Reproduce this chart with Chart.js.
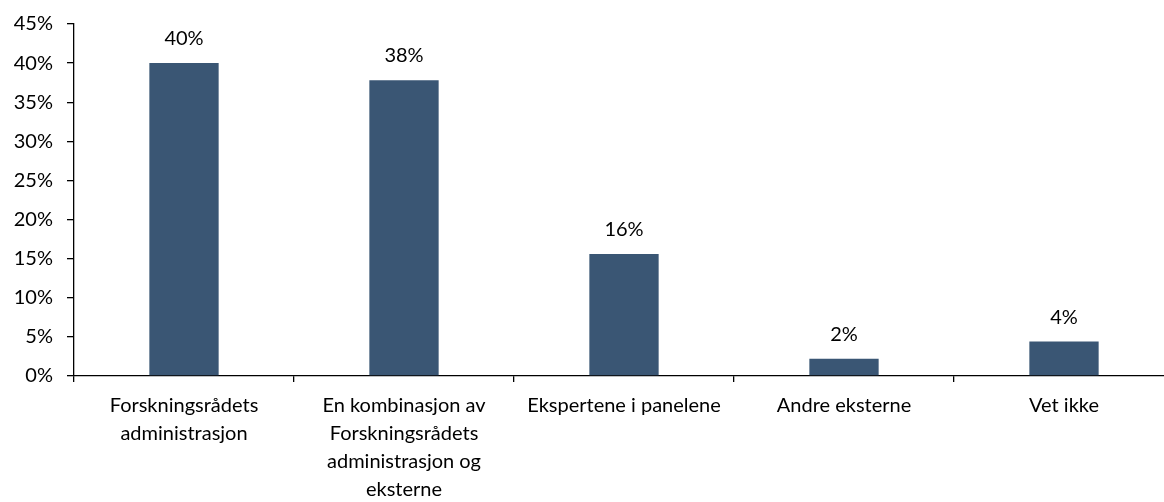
<!DOCTYPE html>
<html>
<head>
<meta charset="utf-8">
<script src="https://cdn.jsdelivr.net/npm/chart.js@4"></script>
<style>
  html, body { margin: 0; padding: 0; background: #fff; overflow: hidden; }
  #wrap { width: 1176px; height: 502px; }
</style>
</head>
<body>
<div id="wrap"><canvas id="chart" width="1176" height="502"></canvas></div>
<script>
// DATA
const categories = [
    ["Forskningsrådets", "administrasjon"],
    ["En kombinasjon av", "Forskningsrådets", "administrasjon og", "eksterne"],
    "Ekspertene i panelene",
    "Andre eksterne",
    "Vet ikke"
];
const shares = [40.0, 37.8, 15.6, 2.2, 4.4];
const shareLabels = ["40%", "38%", "16%", "2%", "4%"];
const yTicks = [0, 5, 10, 15, 20, 25, 30, 35, 40, 45];

const FONT = "Lato, 'Open Sans', sans-serif";

// value labels above the bars
const barLabels = {
    id: "barLabels",
    afterDatasetsDraw(chart) {
        const ctx = chart.ctx;
        const meta = chart.getDatasetMeta(0);
        ctx.save();
        ctx.font = "20px " + FONT;
        ctx.fillStyle = "#000";
        ctx.textAlign = "center";
        ctx.textBaseline = "alphabetic";
        meta.data.forEach((bar, i) => {
            ctx.fillText(shareLabels[i], bar.x, bar.y - 18);
        });
        ctx.restore();
    }
};

new Chart(document.getElementById("chart"), {
    type: "bar",
    data: {
        labels: categories,
        datasets: [{
            data: shares,
            backgroundColor: "#3a5674",
            barPercentage: 0.315,
            categoryPercentage: 1
        }]
    },
    options: {
        responsive: false,
        animation: false,
        layout: { padding: { top: 24, right: 2, left: 0, bottom: 0 } },
        plugins: {
            legend: { display: false },
            tooltip: { enabled: false }
        },
        scales: {
            x: {
                grid: {
                    offset: true,
                    drawOnChartArea: false,
                    tickLength: 6,
                    color: "#000",
                    lineWidth: 1.3
                },
                border: { color: "#000", width: 1.3 },
                ticks: {
                    color: "#000",
                    font: { family: FONT, size: 20, lineHeight: 1.4 },
                    maxRotation: 0,
                    autoSkip: false,
                    padding: 10
                },
                afterFit(scale) { scale.height = 126; }
            },
            y: {
                min: 0,
                max: 45,
                afterBuildTicks(scale) {
                    scale.ticks = yTicks.map(v => ({ value: v }));
                },
                grid: {
                    drawOnChartArea: false,
                    tickLength: 7,
                    color: "#000",
                    lineWidth: 1.3
                },
                border: { color: "#000", width: 1.3 },
                ticks: {
                    color: "#000",
                    font: { family: FONT, size: 20 },
                    padding: 14,
                    callback: v => v + "%"
                },
                afterFit(scale) {
                    scale.width = 74;
                    scale.paddingTop = 0;
                    scale.paddingBottom = 0;
                }
            }
        }
    },
    plugins: [barLabels]
});
</script>
</body>
</html>
